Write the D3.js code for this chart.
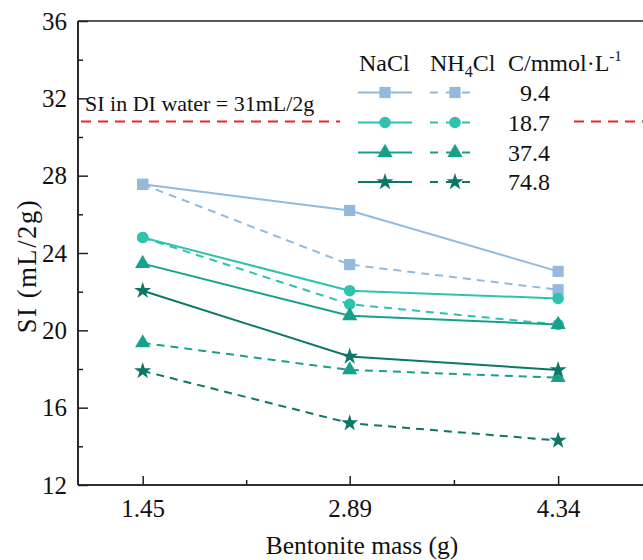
<!DOCTYPE html>
<html>
<head>
<meta charset="utf-8">
<script src="https://cdn.jsdelivr.net/npm/d3@7"></script>
<style>
  html, body { margin: 0; padding: 0; background: #fff; }
  svg text { font-family: "Liberation Serif", "DejaVu Serif", serif; }
</style>
</head>
<body>
<svg id="chart" width="643" height="560"></svg>
<script>
// ---- data ----
const bentoniteMass = [1.45, 2.89, 4.34];
const concentrations = ["9.4", "18.7", "37.4", "74.8"];
const naCl_9_4  = [27.55, 26.2, 23.05];
const naCl_18_7 = [24.8, 22.05, 21.65];
const naCl_37_4 = [23.45, 20.75, 20.3];
const naCl_74_8 = [22.05, 18.65, 17.95];
const nh4Cl_9_4  = [27.55, 23.4, 22.1];
const nh4Cl_18_7 = [24.8, 21.35, 20.3];
const nh4Cl_37_4 = [19.35, 17.95, 17.55];
const nh4Cl_74_8 = [17.9, 15.2, 14.3];
const diWaterSI = 30.8;
const yTicks = [12, 16, 20, 24, 28, 32, 36];
const yMinorTicks = [14, 18, 22, 26, 30, 34];
const xMinorTicks = [2.17, 3.615];

const FONT = "Liberation Serif, DejaVu Serif, serif";
const colors = ["#93badc", "#2fc2ae", "#17a08b", "#0e7667"];
const symbols = [d3.symbolSquare, d3.symbolCircle, d3.symbolTriangle, d3.symbolStar];
const symSizes = [125, 105, 100, 90];

const naClSeries = [naCl_9_4, naCl_18_7, naCl_37_4, naCl_74_8];
const nh4ClSeries = [nh4Cl_9_4, nh4Cl_18_7, nh4Cl_37_4, nh4Cl_74_8];

const svg = d3.select("#chart").attr("font-family", FONT);
const pLeft = 78, pTop = 21, pBottom = 485, pRight = 653;

const x = d3.scaleLinear().domain([1, 5]).range([pLeft, pRight]);
const y = d3.scaleLinear().domain([12, 36]).range([pBottom, pTop]);

// red DI water line
svg.append("line")
  .attr("x1", pLeft + 3).attr("x2", pRight)
  .attr("y1", y(diWaterSI)).attr("y2", y(diWaterSI))
  .attr("stroke", "#e8262d").attr("stroke-width", 2)
  .attr("stroke-dasharray", "10,7");

svg.append("text")
  .attr("x", 85).attr("y", 110.5)
  .attr("font-size", 22)
  .attr("fill", "#111")
  .text("SI in DI water = 31mL/2g");

// series
const line = d3.line().x((d, i) => x(bentoniteMass[i])).y(d => y(d));

function drawSeries(series, dashed) {
  series.forEach((vals, k) => {
    svg.append("path")
      .datum(vals)
      .attr("d", line)
      .attr("fill", "none")
      .attr("stroke", colors[k])
      .attr("stroke-width", 2)
      .attr("stroke-dasharray", dashed ? "8,6" : null);
  });
}
function drawMarkers(series) {
  series.forEach((vals, k) => {
    svg.append("g").selectAll("path")
      .data(vals)
      .join("path")
      .attr("d", d3.symbol().type(symbols[k]).size(symSizes[k]))
      .attr("transform", (d, i) => `translate(${x(bentoniteMass[i])},${y(d)})`)
      .attr("fill", colors[k]);
  });
}
drawSeries(nh4ClSeries, true);
drawSeries(naClSeries, false);
drawMarkers(nh4ClSeries);
drawMarkers(naClSeries);

// axes
const axisColor = "#222";
const yAxis = svg.append("g").attr("transform", `translate(${pLeft},0)`)
  .call(d3.axisLeft(y).tickValues(yTicks).tickSize(-10).tickPadding(11).tickFormat(d3.format("d")));
const yMinor = svg.append("g").attr("transform", `translate(${pLeft},0)`)
  .call(d3.axisLeft(y).tickValues(yMinorTicks).tickSize(-5).tickFormat(""));
const xAxis = svg.append("g").attr("transform", `translate(0,${pBottom})`)
  .call(d3.axisBottom(x).tickValues(bentoniteMass).tickSize(-9).tickPadding(14).tickFormat(d3.format(".2f")));
const xMinor = svg.append("g").attr("transform", `translate(0,${pBottom})`)
  .call(d3.axisBottom(x).tickValues(xMinorTicks).tickSize(-5).tickFormat(""));
[yAxis, yMinor, xAxis, xMinor].forEach(g => {
  g.attr("font-family", FONT).attr("font-size", 25);
  g.select(".domain").attr("stroke", axisColor).attr("stroke-width", 1.6);
  g.selectAll(".tick line").attr("stroke", axisColor).attr("stroke-width", 1.5);
  g.selectAll(".tick text").attr("font-size", 25).attr("fill", "#111");
});
[yAxis, yMinor].forEach(g => g.select(".domain").attr("d", `M0,${pBottom}V${pTop}`));
[xAxis, xMinor].forEach(g => g.select(".domain").attr("d", `M${pLeft},0H${pRight}`));
// top frame
svg.append("line").attr("x1", pLeft).attr("x2", pRight).attr("y1", pTop).attr("y2", pTop)
  .attr("stroke", axisColor).attr("stroke-width", 1.6);

// axis titles
svg.append("text")
  .attr("x", 362).attr("y", 554)
  .attr("text-anchor", "middle").attr("font-size", 25.5).attr("fill", "#111")
  .text("Bentonite mass (g)");
svg.append("text")
  .attr("transform", "translate(36,266) rotate(-90)")
  .attr("text-anchor", "middle").attr("font-size", 26.5).attr("fill", "#111")
  .attr("letter-spacing", 1.6)
  .text("SI (mL/2g)");

// legend
const lg = svg.append("g");
lg.append("rect").attr("x", 340).attr("y", 40).attr("width", 227).attr("height", 158).attr("fill", "#fff");
lg.append("text").attr("x", 359).attr("y", 71).attr("font-size", 24).attr("fill", "#111").text("NaCl");
const nh = lg.append("text").attr("x", 430).attr("y", 71).attr("font-size", 24).attr("fill", "#111");
nh.append("tspan").text("NH");
nh.append("tspan").attr("font-size", 16).attr("dy", 6).text("4");
nh.append("tspan").attr("dy", -6).text("Cl");
const ct = lg.append("text").attr("x", 508).attr("y", 71).attr("font-size", 24).attr("fill", "#111");
ct.append("tspan").text("C/mmol·L");
ct.append("tspan").attr("font-size", 15).attr("dy", -10).text("-1");

const rowY = [92.5, 122.5, 152.5, 182];
concentrations.forEach((c, k) => {
  const ry = rowY[k];
  lg.append("line").attr("x1", 358).attr("x2", 412).attr("y1", ry).attr("y2", ry)
    .attr("stroke", colors[k]).attr("stroke-width", 2);
  lg.append("path").attr("d", d3.symbol().type(symbols[k]).size(symSizes[k])())
    .attr("transform", `translate(385,${ry})`).attr("fill", colors[k]);
  lg.append("line").attr("x1", 430).attr("x2", 475).attr("y1", ry).attr("y2", ry)
    .attr("stroke", colors[k]).attr("stroke-width", 2).attr("stroke-dasharray", "8,8");
  lg.append("path").attr("d", d3.symbol().type(symbols[k]).size(symSizes[k])())
    .attr("transform", `translate(455,${ry})`).attr("fill", colors[k]);
  lg.append("text").attr("x", 550).attr("y", ry + 8).attr("text-anchor", "end")
    .attr("font-size", 24).attr("fill", "#111").text(c);
});
</script>
</body>
</html>
